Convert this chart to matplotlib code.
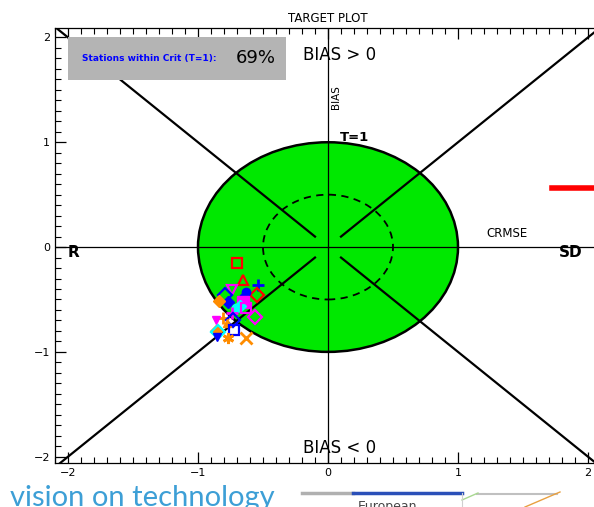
import matplotlib
matplotlib.use("Agg")
import matplotlib.pyplot as plt
from matplotlib.patches import Circle, Rectangle
from matplotlib.ticker import MultipleLocator
import numpy as np

# station scores (CRMSE side on x, BIAS on y)
st_x = [-0.70, -0.655, -0.54, -0.55, -0.74, -0.63, -0.645, -0.79, -0.77, -0.84,
        -0.655, -0.71, -0.68, -0.63, -0.565, -0.74, -0.81, -0.865, -0.73, -0.78,
        -0.72, -0.86, -0.85, -0.855, -0.77, -0.63]
st_y = [-0.15, -0.31, -0.36, -0.46, -0.41, -0.43, -0.47, -0.46, -0.52, -0.51,
        -0.52, -0.58, -0.56, -0.58, -0.67, -0.63, -0.68, -0.695, -0.70, -0.72,
        -0.79, -0.80, -0.81, -0.86, -0.87, -0.87]
st_mark = ['s', '^', '+', 'D', 'v', 'o', 'p', 'D', 'D', 'D',
           's', 'o', 'D', 's', 'D', '+', '+', 'v', 'D', '^',
           's', 'D', 'D', 'v', (6, 2, 0), 'x']
st_col = ['red', 'red', 'blue', 'red', 'magenta', 'blue', 'blue', 'blue', 'blue', 'darkorange',
          'magenta', 'cyan', 'cyan', 'magenta', 'magenta', 'magenta', 'darkorange', 'magenta', 'blue', 'darkorange',
          'blue', 'darkorange', 'cyan', 'blue', 'darkorange', 'darkorange']
st_fill = [0, 0, 1, 0, 0, 1, 1, 0, 1, 1,
           1, 1, 1, 0, 0, 1, 1, 1, 0, 1,
           0, 1, 0, 1, 1, 1]

pct_in = 69

fig = plt.figure(figsize=(5.94, 5.07), dpi=100)
ax = fig.add_axes([55/594, 44/507, 546/594, 435/507])
ax.set_xlim(-2.1, 2.1)
ax.set_ylim(-2.06, 2.09)

# green target circle and dashed inner circle
ax.add_patch(Circle((0, 0), 1.0, facecolor='#00e800', edgecolor='black', lw=1.8, zorder=1))
ax.add_patch(Circle((0, 0), 0.5, facecolor='none', edgecolor='black', lw=1.3,
                    ls=(0, (4, 3)), zorder=2))

# axes cross
ax.axhline(0, color='black', lw=0.9, zorder=2)
ax.axvline(0, color='black', lw=0.9, zorder=2)

# diagonals
d = np.array([0.1, 2.2])
for sx in (-1, 1):
    for sy in (-1, 1):
        ax.plot(sx*d, sy*d, color='black', lw=1.6, zorder=2)

# stations
for x, y, m, c, f in zip(st_x, st_y, st_mark, st_col, st_fill):
    big = 9 if (m == 's' and f) else 7
    if m in ('+', 'x') or isinstance(m, tuple):
        ax.plot(x, y, marker=m, color=c, ms=8, mew=2, ls='none', zorder=4)
    elif f:
        ax.plot(x, y, marker=m, color=c, ms=big - 1, ls='none', zorder=4)
    else:
        ax.plot(x, y, marker=m, mfc='none', mec=c, ms=big, mew=1.6, ls='none', zorder=4)

# legend stub cut by the frame
ax.plot([1.72, 2.2], [0.56, 0.56], color='red', lw=4, clip_on=False, zorder=5)

# info box
ax.add_patch(Rectangle((-2.0, 1.59), 1.68, 0.41, facecolor='#b4b4b4', edgecolor='none', zorder=3))
ax.text(-1.89, 1.80, 'Stations within Crit (T=1):', color='blue', fontsize=6.5,
        fontweight='bold', va='center', zorder=4)
ax.text(-0.71, 1.80, f'{pct_in}%', color='black', fontsize=13, va='center', zorder=4)

# labels
ax.text(0.09, 1.83, 'BIAS > 0', fontsize=12, ha='center', va='center')
ax.text(0.09, -1.92, 'BIAS < 0', fontsize=12, ha='center', va='center')
ax.text(0.065, 1.43, 'BIAS', fontsize=7.5, rotation=90, ha='center', va='center')
ax.text(0.2, 1.05, 'T=1', fontsize=9.5, fontweight='bold', ha='center', va='center')
ax.text(1.38, 0.13, 'CRMSE', fontsize=8.5, ha='center', va='center')
ax.text(1.87, -0.05, 'SD', fontsize=11, fontweight='bold', ha='center', va='center')
ax.text(-1.96, -0.05, 'R', fontsize=11, fontweight='bold', ha='center', va='center')
ax.set_title('TARGET PLOT', fontsize=8.5, pad=4)

ax.xaxis.set_major_locator(MultipleLocator(1))
ax.xaxis.set_minor_locator(MultipleLocator(0.1))
ax.yaxis.set_major_locator(MultipleLocator(1))
ax.yaxis.set_minor_locator(MultipleLocator(0.1))
ax.tick_params(which='both', direction='in', top=True, right=False, labelsize=8)
ax.tick_params(which='major', length=8, width=0.9)
ax.tick_params(which='minor', length=4, width=0.8)
for s in ax.spines.values():
    s.set_linewidth(0.9)

# slide leftovers below the chart
fig.text(10/594, 1 - 506/507, 'vision on technology', color='#3d9fd6', fontsize=21,
         family='Lato', va='baseline', ha='left')
fig.add_artist(plt.Line2D([302/594, 353/594], [1 - 493/507]*2, color='#b0b0b0', lw=2.5))
fig.add_artist(plt.Line2D([353/594, 462/594], [1 - 493/507]*2, color='#2a4fb8', lw=2.5))
fig.add_artist(plt.Line2D([477/594, 557/594], [1 - 494/507]*2, color='#c0c0c0', lw=1.5))
fig.add_artist(plt.Line2D([462/594, 478/594], [1 - 500/507, 1 - 493/507], color='#a8d890', lw=1))
fig.add_artist(plt.Line2D([525/594, 560/594], [1 - 507/507, 1 - 492/507], color='#e8a040', lw=1))
fig.add_artist(plt.Line2D([462/594, 462/594], [1 - 493/507, 0], color='#d0d0d0', lw=0.8))
fig.text(358/594, 1 - 500/507, 'European', color='#444444', fontsize=9, va='top')

fig.savefig('out.png', dpi=100)
